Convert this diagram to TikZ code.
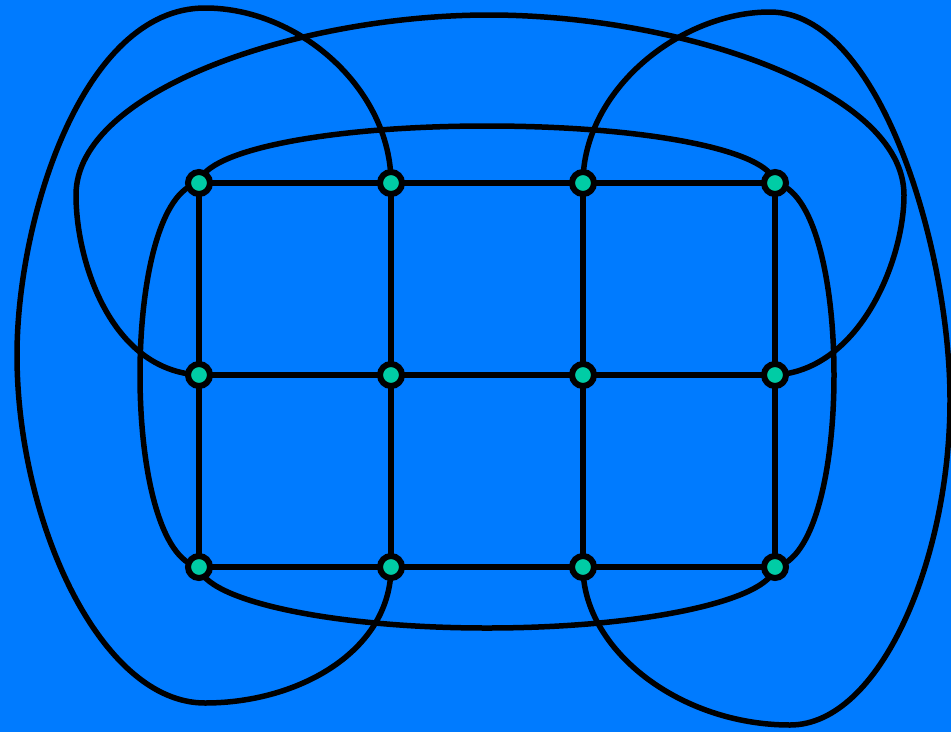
\documentclass[tikz,border=0pt]{standalone}
\definecolor{bgblue}{RGB}{0,123,255}
\definecolor{vfill}{RGB}{0,204,165}
\begin{document}
\begin{tikzpicture}[x=1pt,y=-1pt,
  vtx/.style={circle,draw=black,fill=vfill,line width=6pt,minimum size=22pt,inner sep=0pt},
  edge/.style={draw=black,line width=5.5pt}]
\fill[bgblue] (0,0) rectangle (951,732);
\useasboundingbox (0,0) rectangle (951,732);
% node positions
\foreach \c/\x in {1/199,2/391,3/583,4/775}{
  \foreach \r/\y in {1/183,2/375,3/567}{
    \coordinate (p\c\r) at (\x,\y);
  }
}
% outer curves
\draw[edge] (p11) .. controls (205,150) and (330,126) .. (487,126)
  .. controls (645,126) and (770,150) .. (p41);
\draw[edge] (p13) .. controls (205,600) and (330,628) .. (487,628)
  .. controls (645,628) and (770,600) .. (p43);
\draw[edge] (p11) .. controls (160,190) and (140,280) .. (140,375)
  .. controls (140,470) and (160,560) .. (p13);
\draw[edge] (p41) .. controls (814,190) and (834,280) .. (834,375)
  .. controls (834,470) and (814,560) .. (p43);
\draw[edge] (p12) .. controls (110,370) and (76,260) .. (76,195)
  .. controls (76,90) and (300,15) .. (489,15)
  .. controls (680,15) and (904,90) .. (904,195)
  .. controls (904,260) and (860,370) .. (p42);
\draw[edge] (p21) .. controls (391,90) and (300,8) .. (205,8)
  .. controls (82,8) and (17,220) .. (17,355)
  .. controls (17,520) and (100,703) .. (205,703)
  .. controls (300,703) and (391,650) .. (p23);
\draw[edge] (p31) .. controls (583,90) and (680,12) .. (770,12)
  .. controls (880,12) and (950,250) .. (950,400)
  .. controls (950,560) and (880,725) .. (790,725)
  .. controls (680,725) and (583,650) .. (p33);
% grid edges
\draw[edge] (p11) -- (p41) (p12) -- (p42) (p13) -- (p43);
\draw[edge] (p11) -- (p13) (p21) -- (p23) (p31) -- (p33) (p41) -- (p43);
% vertices
\foreach \c in {1,2,3,4}{
  \foreach \r in {1,2,3}{
    \node[vtx] (v\c\r) at (p\c\r) {};
  }
}
\end{tikzpicture}
\end{document}
